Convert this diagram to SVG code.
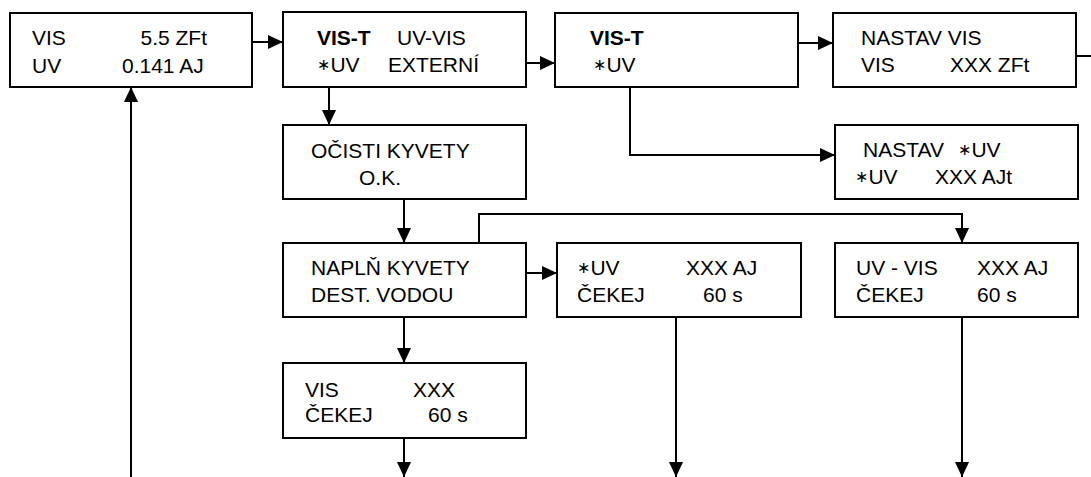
<svg xmlns="http://www.w3.org/2000/svg" width="1091" height="477" viewBox="0 0 1091 477">
<style>
.box{fill:#fff;stroke:#000;stroke-width:2}
.t{font-family:"Liberation Sans",Arial,sans-serif;font-size:21px;fill:#000}
.b{font-weight:bold}
.s{font-family:"DejaVu Sans",sans-serif;font-size:16px}
.c{fill:none;stroke:#000;stroke-width:2}
.a{marker-end:url(#ah)}
</style>
<defs>
<marker id="ah" markerUnits="userSpaceOnUse" markerWidth="15" markerHeight="14" refX="15" refY="7" orient="auto">
<path d="M0,0 L15,7 L0,14 z" fill="#000"/>
</marker>
</defs>
<g id="connectors">
<path class="c a" d="M252,42 H283"/>
<path class="c a" d="M526,63 H555"/>
<path class="c a" d="M798,43 H833"/>
<path class="c" d="M1076,56 H1091"/>
<path class="c a" d="M329,87 V125"/>
<path class="c a" d="M630,87 V155 H835"/>
<path class="c a" d="M404,199 V243"/>
<path class="c a" d="M479,243 V214 H962 V243"/>
<path class="c a" d="M526,273 H557"/>
<path class="c a" d="M404,317 V363"/>
<path class="c a" d="M404,438 V477"/>
<path class="c a" d="M676,317 V477"/>
<path class="c a" d="M962,317 V477"/>
<path class="c a" d="M131,477 V87"/>
</g>
<g id="n1">
<rect class="box" x="10" y="13" width="242" height="74"/>
<text class="t" x="32" y="45">VIS</text>
<text class="t" x="207" y="45" text-anchor="end">5.5 ZFt</text>
<text class="t" x="32" y="73">UV</text>
<text class="t" x="122" y="73">0.141 AJ</text>
</g>
<g id="n2">
<rect class="box" x="283" y="12" width="243" height="75"/>
<text class="t b" x="317" y="45">VIS-T</text>
<text class="t" x="397" y="45">UV-VIS</text>
<text class="t" x="317" y="72"><tspan class="s" dy="-2">∗</tspan><tspan dy="2">UV</tspan></text>
<text class="t" x="388" y="72">EXTERNÍ</text>
</g>
<g id="n3">
<rect class="box" x="555" y="13" width="243" height="74"/>
<text class="t b" x="590" y="45">VIS-T</text>
<text class="t" x="593" y="72"><tspan class="s" dy="-2">∗</tspan><tspan dy="2">UV</tspan></text>
</g>
<g id="n4">
<rect class="box" x="833" y="13" width="243" height="74"/>
<text class="t" x="861" y="45">NASTAV VIS</text>
<text class="t" x="861" y="72">VIS</text>
<text class="t" x="950" y="72">XXX ZFt</text>
</g>
<g id="n5">
<rect class="box" x="283" y="125" width="243" height="74"/>
<text class="t" x="311" y="158">OČISTI KYVETY</text>
<text class="t" x="359" y="185">O.K.</text>
</g>
<g id="n6">
<rect class="box" x="835" y="125" width="243" height="74"/>
<text class="t" x="863" y="157">NASTAV</text>
<text class="t" x="958" y="157"><tspan class="s" dy="-2">∗</tspan><tspan dy="2">UV</tspan></text>
<text class="t" x="855" y="184"><tspan class="s" dy="-2">∗</tspan><tspan dy="2">UV</tspan></text>
<text class="t" x="935" y="184">XXX AJt</text>
</g>
<g id="n7">
<rect class="box" x="283" y="243" width="243" height="74"/>
<text class="t" x="311" y="275">NAPLŇ KYVETY</text>
<text class="t" x="311" y="302">DEST. VODOU</text>
</g>
<g id="n8">
<rect class="box" x="557" y="243" width="244" height="74"/>
<text class="t" x="577" y="275"><tspan class="s" dy="-2">∗</tspan><tspan dy="2">UV</tspan></text>
<text class="t" x="686" y="275">XXX AJ</text>
<text class="t" x="577" y="302">ČEKEJ</text>
<text class="t" x="703" y="302">60 s</text>
</g>
<g id="n9">
<rect class="box" x="835" y="243" width="243" height="74"/>
<text class="t" x="856" y="275">UV - VIS</text>
<text class="t" x="977" y="275">XXX AJ</text>
<text class="t" x="856" y="302">ČEKEJ</text>
<text class="t" x="977" y="302">60 s</text>
</g>
<g id="n10">
<rect class="box" x="283" y="363" width="243" height="75"/>
<text class="t" x="305" y="397">VIS</text>
<text class="t" x="413" y="397">XXX</text>
<text class="t" x="305" y="422">ČEKEJ</text>
<text class="t" x="428" y="422">60 s</text>
</g>
</svg>
